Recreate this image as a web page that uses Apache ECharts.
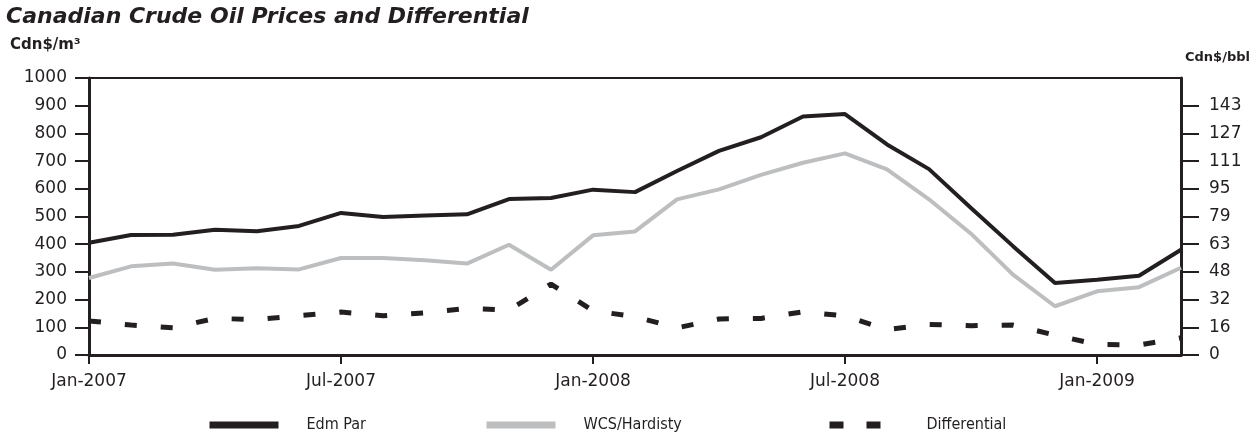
<!DOCTYPE html>
<html>
<head>
<meta charset="utf-8">
<script src="https://cdn.jsdelivr.net/npm/echarts@6/dist/echarts.min.js"></script>
<style>
  html, body { margin: 0; padding: 0; background: #ffffff; }
  #chart { width: 1257px; height: 432px; }
</style>
</head>
<body>
<div id="chart"></div>
<script>
// Monthly prices, Cdn$/m3
const months = [
  'Jan-2007','Feb-2007','Mar-2007','Apr-2007','May-2007','Jun-2007',
  'Jul-2007','Aug-2007','Sep-2007','Oct-2007','Nov-2007','Dec-2007',
  'Jan-2008','Feb-2008','Mar-2008','Apr-2008','May-2008','Jun-2008',
  'Jul-2008','Aug-2008','Sep-2008','Oct-2008','Nov-2008','Dec-2008',
  'Jan-2009','Feb-2009','Mar-2009'
];
const edmPar = [405, 433, 434, 452, 447, 466, 513, 498, 504, 508, 563, 567,
                597, 588, 664, 737, 786, 861, 870, 760, 671, 531, 393, 260,
                272, 286, 380];
const wcsHardisty = [278, 320, 330, 308, 313, 309, 350, 350, 342, 330, 398, 308,
                     432, 446, 562, 598, 650, 694, 728, 670, 562, 438, 290, 176,
                     230, 245, 315];
const differential = [123, 108, 98, 132, 128, 142, 155, 142, 152, 168, 162, 256,
                      160, 138, 98, 130, 132, 156, 141, 92, 110, 106, 108, 72,
                      38, 36, 62];
// Right-hand scale labels (Cdn$/bbl) at each 100 Cdn$/m3 step
const bblTickValues = [0, 100, 200, 300, 400, 500, 600, 700, 800, 900];
const bblTickLabels = ['0', '16', '32', '48', '63', '79', '95', '111', '127', '143'];

const INK = '#231f20';
const GREY = '#bcbec0';
const FONT = "'DejaVu Sans', sans-serif";
const NARROW = "'Liberation Sans Narrow', 'DejaVu Sans Condensed', 'Liberation Sans', sans-serif";

const chart = echarts.init(document.getElementById('chart'), null, { renderer: 'canvas' });

function legendFor(name, left, lineStyle) {
  return {
    data: [name],
    left: left,
    top: 417,
    padding: 0,
    itemWidth: 69,
    itemHeight: 14,
    selectedMode: false,
    lineStyle: lineStyle,
    itemStyle: { opacity: 0 },
    textStyle: { fontFamily: NARROW, fontSize: 16, color: INK, padding: [0, 0, 0, 23] }
  };
}

chart.setOption({
  animation: false,
  backgroundColor: '#ffffff',
  title: [
    {
      text: 'Canadian Crude Oil Prices and Differential',
      left: 6, top: 6, padding: 0,
      textStyle: { fontFamily: FONT, fontSize: 22, fontWeight: 'bold', fontStyle: 'italic', color: INK }
    },
    {
      text: 'Cdn$/m³',
      left: 10, top: 38, padding: 0,
      textStyle: { fontFamily: FONT, fontSize: 15, fontWeight: 'bold', color: INK }
    },
    {
      text: 'Cdn$/bbl',
      left: 1185, top: 51, padding: 0,
      textStyle: { fontFamily: FONT, fontSize: 13, fontWeight: 'bold', color: INK }
    }
  ],
  legend: [
    legendFor('Edm Par', 206, { width: 7 }),
    legendFor('WCS/Hardisty', 483, { width: 7 }),
    legendFor('Differential', 826, { width: 7, type: [14, 23] })
  ],
  grid: {
    left: 89, right: 76, top: 78, bottom: 77,
    show: true, borderColor: INK, borderWidth: 2, backgroundColor: 'transparent'
  },
  xAxis: {
    type: 'category',
    data: months,
    boundaryGap: false,
    axisLine: { lineStyle: { color: INK, width: 3 } },
    axisTick: {
      interval: (i) => i % 6 === 0,
      length: 9,
      lineStyle: { color: INK, width: 2 }
    },
    axisLabel: {
      interval: (i) => i % 6 === 0,
      margin: 18,
      fontFamily: FONT, fontSize: 17, color: INK
    },
    splitLine: { show: false }
  },
  yAxis: [
    {
      type: 'value', min: 0, max: 1000, interval: 100,
      axisLine: { show: true, lineStyle: { color: INK, width: 3 } },
      axisTick: { show: true, length: 14, lineStyle: { color: INK, width: 2 } },
      axisLabel: {
        margin: 22, fontFamily: FONT, fontSize: 17, color: INK,
        formatter: (v) => String(v)
      },
      splitLine: { show: false }
    },
    {
      type: 'value', min: 0, max: 1000, interval: 100, position: 'right',
      axisLine: { show: true, lineStyle: { color: INK, width: 3 } },
      axisTick: { show: true, length: 18, customValues: bblTickValues, lineStyle: { color: INK, width: 2 } },
      axisLabel: {
        margin: 28, fontFamily: FONT, fontSize: 17, color: INK,
        customValues: bblTickValues,
        formatter: (v) => bblTickLabels[bblTickValues.indexOf(v)] ?? ''
      },
      splitLine: { show: false }
    }
  ],
  series: [
    {
      name: 'WCS/Hardisty', type: 'line', data: wcsHardisty,
      symbol: 'none', lineStyle: { color: GREY, width: 4 }, itemStyle: { color: GREY }
    },
    {
      name: 'Edm Par', type: 'line', data: edmPar,
      symbol: 'none', lineStyle: { color: INK, width: 4 }, itemStyle: { color: INK }
    },
    {
      name: 'Differential', type: 'line', data: differential,
      symbol: 'none', lineStyle: { color: INK, width: 5, type: [12, 24] }, itemStyle: { color: INK }
    }
  ]
});
</script>
</body>
</html>
